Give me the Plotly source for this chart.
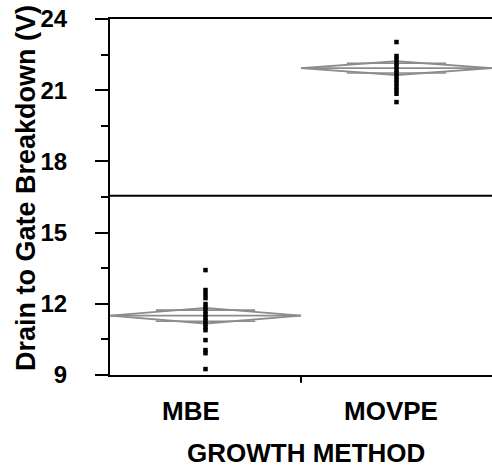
import math
import plotly.graph_objects as go

# ---- data ----
categories = ["MBE", "MOVPE"]
mbe_values = [13.42, 12.58, 12.41, 12.24, 11.99, 11.85, 11.70, 11.55, 11.42, 11.28,
              11.15, 11.02, 10.89, 10.47, 10.05, 9.92, 9.25]
movpe_values = [23.03, 22.44, 22.30, 22.15, 22.00, 21.86, 21.72, 21.58, 21.44, 21.30,
                21.15, 21.00, 20.85, 20.50]
group_means = [11.50, 21.93]
group_ci = [0.33, 0.29]
grand_mean = 16.55
y_ticks = [9, 12, 15, 18, 21, 24]
y_minor = [10.5, 13.5, 16.5, 19.5, 22.5]

FONT = "Liberation Sans, Arial, sans-serif"
GRAY = "rgb(140,140,140)"

fig = go.Figure()

# means diamonds
for i, (m, ci) in enumerate(zip(group_means, group_ci)):
    c = i + 0.5
    fig.add_trace(go.Scatter(
        x=[i, c, i + 1, c, i], y=[m, m + ci, m, m - ci, m],
        mode="lines", line=dict(color=GRAY, width=1.8), hoverinfo="skip", showlegend=False))
    fig.add_trace(go.Scatter(
        x=[i, i + 1], y=[m, m], mode="lines",
        line=dict(color=GRAY, width=1.8), hoverinfo="skip", showlegend=False))
    om = ci / math.sqrt(2)
    for s in (1, -1):
        fig.add_trace(go.Scatter(
            x=[c - 0.26, c + 0.26], y=[m + s * om, m + s * om], mode="lines",
            line=dict(color=GRAY, width=1.6), hoverinfo="skip", showlegend=False))

# points
for i, vals in enumerate([mbe_values, movpe_values]):
    fig.add_trace(go.Scatter(
        x=[i + 0.5] * len(vals), y=vals, mode="markers",
        marker=dict(symbol="square", size=4.5, color="black", line=dict(width=0)),
        showlegend=False))

# grand mean line
fig.add_shape(type="line", xref="x", yref="y", x0=0, x1=2, y0=grand_mean, y1=grand_mean,
              line=dict(color="black", width=2))
# separator tick between groups
fig.add_shape(type="line", xref="x", yref="y domain", x0=1, x1=1, y0=0, y1=-0.022,
              line=dict(color="black", width=2))

# category labels
for i, (cat, xs) in enumerate(zip(categories, [-15, -6])):
    fig.add_annotation(x=i + 0.5, xref="x", y=-0.101, yref="paper", text=f"<b>{cat}</b>",
                       showarrow=False, xshift=xs, yanchor="middle",
                       font=dict(family=FONT, size=26, color="black"))

fig.add_annotation(x=0.5, xref="paper", y=-0.219, yref="paper", text="<b>GROWTH METHOD</b>",
                   showarrow=False, xshift=5, yanchor="middle",
                   font=dict(family=FONT, size=26, color="black"))

fig.add_annotation(x=0, xref="paper", xshift=-84, xanchor="center", y=0.525, yref="paper",
                   text="<b>Drain to Gate Breakdown (V)</b>", textangle=-90,
                   showarrow=False, yanchor="middle",
                   font=dict(family=FONT, size=27, color="black"))

fig.update_layout(
    width=492, height=475,
    margin=dict(l=110, r=0, t=19, b=100, autoexpand=False),
    paper_bgcolor="white", plot_bgcolor="white",
    xaxis=dict(range=[0, 2], showgrid=False, zeroline=False, showline=True, mirror=True,
               linecolor="black", linewidth=2, showticklabels=False, ticks="",
               automargin=False),
    yaxis=dict(range=[9, 24], tickvals=y_ticks, showgrid=False, zeroline=False,
               showline=True, linecolor="black", linewidth=2,
               ticks="outside", ticklen=13, tickwidth=2, tickcolor="black",
               ticklabelstandoff=23, automargin=False, ticklabeloverflow="allow",
               tickfont=dict(family=FONT, size=24, color="black", weight="bold"),
               minor=dict(tickvals=y_minor, ticks="outside", ticklen=7, tickwidth=2,
                          tickcolor="black")),
    font=dict(family=FONT),
)

fig.write_html("out.html", config={"displayModeBar": False},
               post_script="document.body.style.margin='0px';")
